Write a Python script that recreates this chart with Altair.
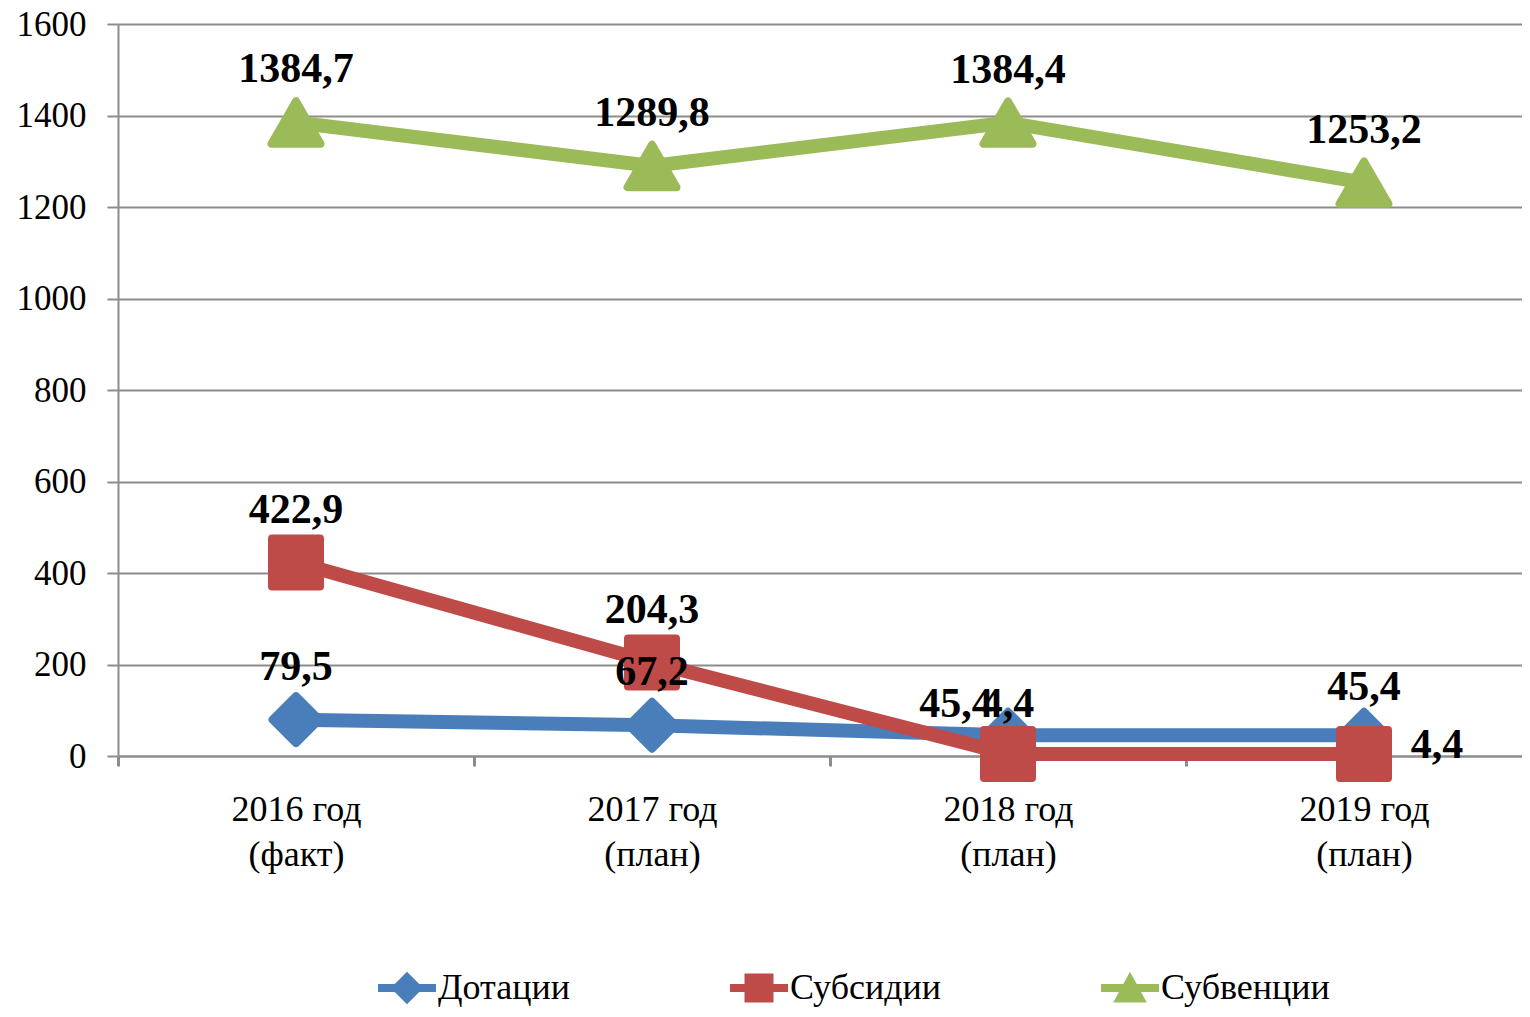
import altair as alt
import pandas as pd

categories = ["2016 год\n(факт)", "2017 год\n(план)", "2018 год\n(план)", "2019 год\n(план)"]
series_names = ["Дотации", "Субсидии", "Субвенции"]
dotacii = [79.5, 67.2, 45.4, 45.4]
subsidii = [422.9, 204.3, 4.4, 4.4]
subvencii = [1384.7, 1289.8, 1384.4, 1253.2]
y_ticks = [0, 200, 400, 600, 800, 1000, 1200, 1400, 1600]

colors = ["#4a7ebb", "#be4b48", "#9bbb59"]
shapes = ["diamond", "square", "triangle-up"]
marker_sizes = [2200, 2304, 2400]
legend_paths = [
    "M-1,-0.14L1,-0.14L1,0.14L-1,0.14Z M0,-0.56L0.56,0L0,0.56L-0.56,0Z",
    "M-1,-0.14L1,-0.14L1,0.14L-1,0.14Z M-0.5,-0.5L0.5,-0.5L0.5,0.5L-0.5,0.5Z",
    "M-1,-0.14L1,-0.14L1,0.14L-1,0.14Z M0,-0.56L0.58,0.5L-0.58,0.5Z",
]

rows = []
for name, vals in zip(series_names, [dotacii, subsidii, subvencii]):
    for ci, (c, v) in enumerate(zip(categories, vals)):
        rows.append({"cat": c, "ci": ci, "series": name, "value": v})
df = pd.DataFrame(rows)

GRAY = "#8c8c8c"
FONT = "Liberation Serif"

x_enc = alt.X(
    "cat:N",
    sort=categories,
    scale=alt.Scale(type="band", domain=categories, paddingInner=0, paddingOuter=0, range=[0, 1424]),
    axis=alt.Axis(
        title=None, labelAngle=0, labelExpr="split(datum.label, '\\n')",
        labelFont=FONT, labelFontSize=36, labelLineHeight=45, labelPadding=26,
        labelColor="black", tickBand="extent", tickSize=10, tickWidth=3,
        tickColor=GRAY, domainColor=GRAY, domainWidth=2, grid=False,
    ),
)
y_enc = alt.Y(
    "value:Q",
    scale=alt.Scale(domain=[0, 1600], nice=False, zero=True),
    axis=alt.Axis(
        title=None, values=y_ticks, format="d", grid=True, gridColor=GRAY, gridWidth=2,
        tickSize=11, tickWidth=2, tickColor=GRAY, domainColor=GRAY, domainWidth=2,
        labelFont=FONT, labelFontSize=35, labelPadding=21, labelColor="black",
    ),
)

base = alt.Chart(df)
layers = []
for i, name in enumerate(series_names):
    sub = base.transform_filter(alt.datum.series == name)
    layers.append(sub.mark_line(color=colors[i], strokeWidth=14).encode(x=x_enc, y=y_enc))
    layers.append(
        sub.mark_point(
            shape=shapes[i], filled=True, fill=colors[i], stroke=colors[i],
            strokeWidth=8, strokeJoin="round", size=marker_sizes[i], opacity=1,
        ).encode(x=x_enc, y=y_enc)
    )

# label offsets for overlapping labels (series, category index, dx, dy)
specials = [("Дотации", 2, -52, -18), ("Дотации", 3, 0, -35), ("Субсидии", 2, 0, -37), ("Субсидии", 3, 73, 4)]

lab = base.transform_calculate(label="replace(format(datum.value, '.1f'), '.', ',')")
text_style = dict(font=FONT, fontSize=42, fontWeight="bold", color="black", align="center", baseline="alphabetic")

special_test = " || ".join(f"(datum.series == '{s}' && datum.ci == {c})" for s, c, _, _ in specials)
layers.append(
    lab.transform_filter(f"!({special_test})").mark_text(dy=-40, **text_style).encode(x=x_enc, y=y_enc, text="label:N")
)
for s, c, dx, dy in specials:
    layers.append(
        lab.transform_filter(f"datum.series == '{s}' && datum.ci == {c}")
        .mark_text(dx=dx, dy=dy, **text_style)
        .encode(x=x_enc, y=y_enc, text="label:N")
    )

legend = alt.Legend(
    title=None, orient="none", legendX=260, legendY=935, direction="horizontal",
    columnPadding=159, labelFont=FONT, labelFontSize=36, labelColor="black", labelLimit=0,
    symbolSize=3364, labelOffset=2, symbolStrokeWidth=0, symbolOpacity=1, padding=0,
)
legend_layer = base.transform_filter("false").mark_point(filled=True, opacity=1).encode(
    color=alt.Color("series:N", scale=alt.Scale(domain=series_names, range=colors), legend=legend),
    shape=alt.Shape("series:N", scale=alt.Scale(domain=series_names, range=legend_paths), legend=legend),
)
layers.append(legend_layer)

chart = alt.layer(*layers).properties(
    width=1404, height=732,
    padding={"left": 110, "top": 16, "right": 0, "bottom": 253},
    autosize=alt.AutoSizeParams(type="none"),
    background="white",
).configure_view(strokeWidth=0).configure(font=FONT)

chart.save("out.html", embed_options={"renderer": "svg", "actions": False})
